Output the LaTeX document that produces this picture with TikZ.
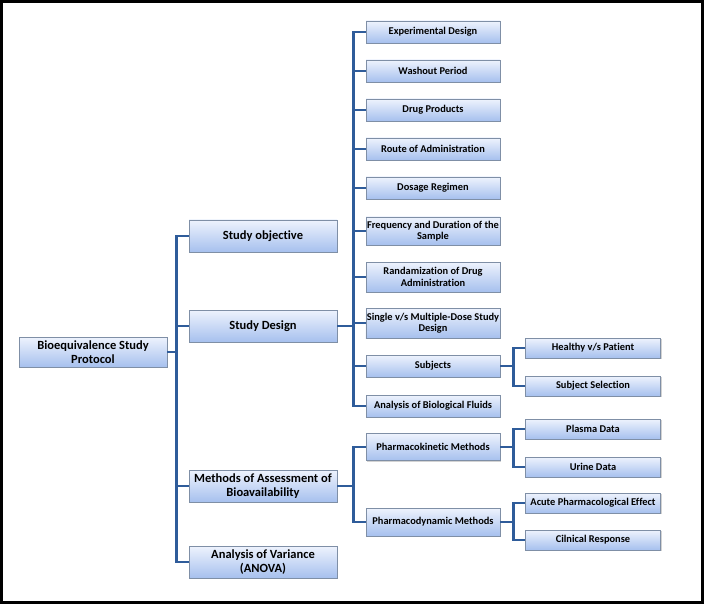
\documentclass[tikz,border=0pt]{standalone}
\usepackage{fontspec}
\setmainfont{Carlito}[Ligatures=NoCommon]
\usetikzlibrary{shadows}
\definecolor{boxtop}{HTML}{EEF3FD}
\definecolor{boxbot}{HTML}{A6C0EE}
\definecolor{boxline}{HTML}{7F8FA6}
\definecolor{linkblue}{HTML}{2F5C9A}
\tikzset{
  base/.style={draw=boxline,thin,top color=boxtop,bottom color=boxbot,align=center,inner sep=1pt,
    drop shadow={shadow xshift=1.2pt,shadow yshift=-1.2pt,opacity=0.35}},
  topic/.style={base,minimum width=148pt,minimum height=32pt,font=\fontsize{12.5}{14.5}\selectfont\bfseries},
  item/.style={base,minimum width=134pt,minimum height=22pt,font=\fontsize{10.4}{11.5}\selectfont\bfseries},
  leaf/.style={base,minimum width=135pt,minimum height=20pt,font=\fontsize{10.4}{11.5}\selectfont\bfseries},
  link/.style={draw=linkblue,line width=2.8pt}
}
\begin{document}
\begin{tikzpicture}[x=1pt,y=-1pt]
\useasboundingbox (0,0) rectangle (704,604);
\draw[line width=3pt] (1.5,1.5) rectangle (702.5,602.5);

\node[topic,minimum height=30pt] (root) at (93,352) {Bioequivalence Study\\Protocol};

\node[topic] (obj) at (263,236) {Study objective};
\node[topic] (design) at (263,326) {Study Design};
\node[topic] (assess) at (263,486) {Methods of Assessment of\\Bioavailability};
\node[topic] (anova) at (263,562) {Analysis of Variance\\(ANOVA)};

\node[item] (exp) at (433,32) {Experimental Design};
\node[item] (wash) at (433,71) {Washout Period};
\node[item] (prod) at (433,110) {Drug Products};
\node[item] (route) at (433,149) {Route of Administration};
\node[item] (dose) at (433,188) {Dosage Regimen};
\node[item,minimum height=28pt] (freq) at (433,231) {Frequency and Duration of the\\Sample};
\node[item,minimum height=30pt] (rand) at (433,277) {Randamization of Drug\\Administration};
\node[item,minimum height=30pt] (single) at (433,323) {Single v/s Multiple-Dose Study\\Design};
\node[item] (subj) at (433,366) {Subjects};
\node[item] (fluid) at (433,406) {Analysis of Biological Fluids};
\node[item,minimum height=27pt] (pk) at (433,447) {Pharmacokinetic Methods};
\node[item,minimum height=28pt] (pd) at (433,522) {Pharmacodynamic Methods};

\node[leaf] (healthy) at (593,348) {Healthy v/s Patient};
\node[leaf] (select) at (593,386) {Subject Selection};
\node[leaf] (plasma) at (593,429) {Plasma Data};
\node[leaf] (urine) at (593,467) {Urine Data};
\node[leaf] (acute) at (593,503) {Acute Pharmacological Effect};
\node[leaf] (clinical) at (593,540) {Cilnical Response};

% tree connectors
\foreach \n in {obj,design,assess,anova}
  \draw[link] (root.east) -- ++(9,0) |- (\n.west);
\foreach \n in {exp,wash,prod,route,dose,freq,rand,single,subj,fluid}
  \draw[link] (design.east) -- ++(16,0) |- (\n.west);
\foreach \n in {pk,pd}
  \draw[link] (assess.east) -- ++(16,0) |- (\n.west);
\foreach \n in {healthy,select}
  \draw[link] (subj.east) -- ++(13,0) |- (\n.west);
\foreach \n in {plasma,urine}
  \draw[link] (pk.east) -- ++(13,0) |- (\n.west);
\foreach \n in {acute,clinical}
  \draw[link] (pd.east) -- ++(13,0) |- (\n.west);
\end{tikzpicture}
\end{document}
